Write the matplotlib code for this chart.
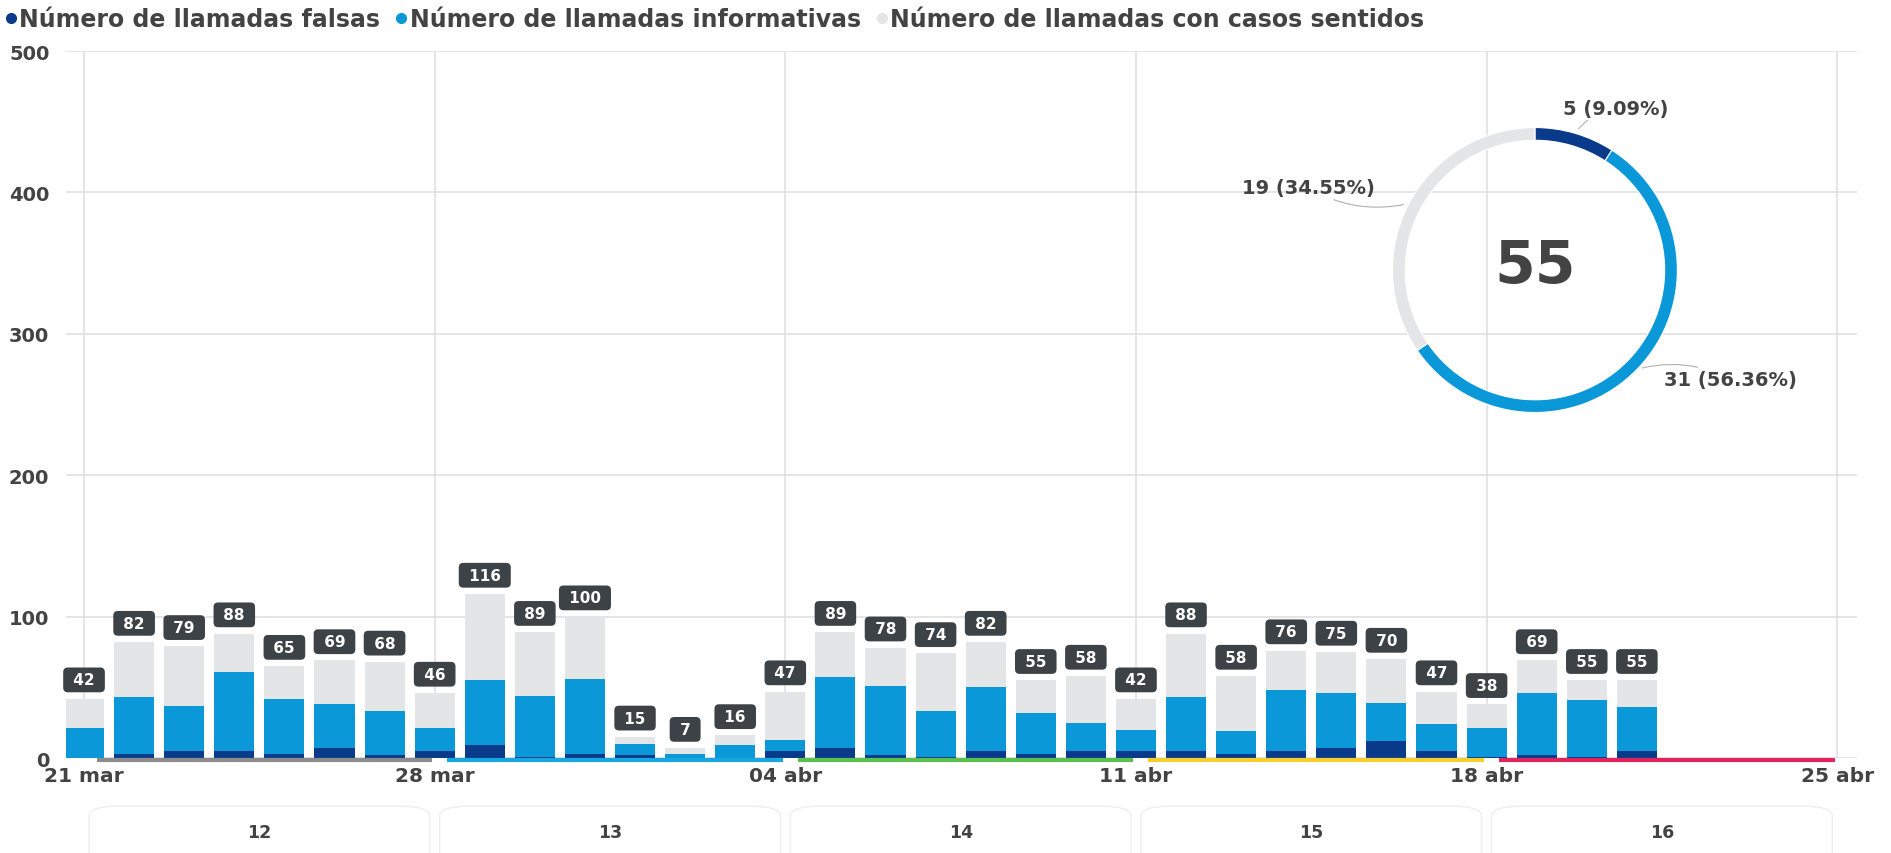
import numpy as np
import matplotlib.pyplot as plt
import matplotlib
from matplotlib.patches import FancyBboxPatch

matplotlib.rcParams.update({'font.family': ['DejaVu Sans'], 'font.weight': 'bold'})

# Data: one bar per day starting 21 mar
falsas = [0, 3, 5, 5, 3, 7, 2, 5, 9, 1, 3, 2, 0, 0, 5, 7, 2, 1, 5, 3, 5, 5,
          5, 3, 5, 7, 12, 5, 1, 2, 1, 5]
informativas = [21, 40, 32, 56, 39, 31, 31, 16, 46, 43, 53, 8, 3, 9, 8, 50, 49,
                32, 45, 29, 20, 15, 38, 16, 43, 39, 27, 19, 20, 44, 40, 31]
totales = [42, 82, 79, 88, 65, 69, 68, 46, 116, 89, 100, 15, 7, 16, 47, 89, 78,
           74, 82, 55, 58, 42, 88, 58, 76, 75, 70, 47, 38, 69, 55, 55]
sentidos = [t - f - i for t, f, i in zip(totales, falsas, informativas)]

tick_days = [0, 7, 14, 21, 28, 35]
tick_labels = ['21 mar', '28 mar', '04 abr', '11 abr', '18 abr', '25 abr']
semanas = ['12', '13', '14', '15', '16']
semana_colors = ['#8c8c8c', '#1aa7e0', '#5cc04f', '#f5cf2e', '#e0245e']

# donut: last day
donut_vals = [5, 31, 19]

c_falsas = '#0a3a8a'
c_info = '#0a98d8'
c_sent = '#e4e5e7'
c_text = '#434343'

fig = plt.figure(figsize=(18.91, 8.54), dpi=100)
ax = fig.add_axes([0.0349, 0.1112, 0.947, 0.8279])

days = np.arange(len(totales))
f = np.array(falsas)
i_ = np.array(informativas)
s = np.array(sentidos)
ax.bar(days, f, width=0.8, color=c_falsas, zorder=3)
ax.bar(days, i_, width=0.8, bottom=f, color=c_info, zorder=3)
ax.bar(days, s, width=0.8, bottom=f + i_, color=c_sent, zorder=3)

for d, t in zip(days, totales):
    ax.annotate(f' {t} ', (d, t), xytext=(0, 13.5), textcoords='offset points',
                ha='center', va='center', color='white', fontsize=11,
                fontweight='bold', zorder=5,
                bbox=dict(boxstyle='round,pad=0.32,rounding_size=0.3',
                          fc='#3d4246', ec='none'))

ax.set_xlim(-0.36, 35.39)
ax.set_ylim(0, 500)
ax.set_yticks([0, 100, 200, 300, 400, 500])
ax.set_xticks(tick_days)
ax.set_xticklabels(tick_labels)
ax.tick_params(length=0, labelsize=14, labelcolor=c_text)
ax.tick_params(axis='x', labelsize=14.5, pad=6)
ax.yaxis.set_tick_params(pad=12)
for lab in ax.get_xticklabels() + ax.get_yticklabels():
    lab.set_fontweight('bold')
ax.grid(True, color='#dedede', linewidth=1.1, zorder=0)
for sp in ax.spines.values():
    sp.set_visible(False)

# week segments along the axis and week bands below
for k, (w, col) in enumerate(zip(semanas, semana_colors)):
    x0 = tick_days[k]
    ax.plot([x0 + 0.25, x0 + 6.95], [-1.5, -1.5], color=col, lw=3,
            solid_capstyle='butt', clip_on=False, zorder=4)
    ax.add_patch(FancyBboxPatch((x0 + 0.1, -95), 6.8, 61,
                                boxstyle='round,pad=0,rounding_size=0.6',
                                mutation_aspect=12, fc='none', ec='#eeeeee',
                                lw=1, clip_on=False, transform=ax.transData))
    ax.text(x0 + 3.5, -52, w, ha='center', va='center', fontsize=12.5,
            color=c_text, fontweight='bold', clip_on=False)

# legend
handles = [plt.Line2D([], [], marker='o', ls='', color=c, markersize=7)
           for c in [c_falsas, c_info, c_sent]]
fig.legend(handles, ['Número de llamadas falsas', 'Número de llamadas informativas',
                     'Número de llamadas con casos sentidos'],
           loc='upper left', bbox_to_anchor=(-0.008, 1.015), ncol=3, frameon=False,
           handlelength=0.4, handletextpad=0.15, columnspacing=0.7,
           prop={'size': 17, 'weight': 'bold'}, labelcolor=c_text)

# donut for last day
dax = fig.add_axes([0.7324, 0.507, 0.1586, 0.3513])
dax.set_facecolor('none')
wedges, _ = dax.pie(donut_vals, colors=[c_falsas, c_info, c_sent], startangle=90,
                    counterclock=False, radius=0.95,
                    wedgeprops=dict(width=0.085, edgecolor='white', linewidth=0.8))
dax.set_xlim(-1, 1)
dax.set_ylim(-1, 1)
dax.set_aspect('auto')
dax.axis('off')
dax.text(0, 0.03, str(sum(donut_vals)), ha='center', va='center', fontsize=42,
         fontweight='bold', color=c_text)

total = sum(donut_vals)
label_pos = [(0.19, 1.08, 'left'), (0.86, -0.73, 'left'), (-1.07, 0.55, 'right')]
for w, v, (tx, ty, ha) in zip(wedges, donut_vals, label_pos):
    ang = np.deg2rad((w.theta1 + w.theta2) / 2)
    px, py = 0.95 * np.cos(ang), 0.95 * np.sin(ang)
    dax.annotate(f'{v} ({v / total * 100:.2f}%)', (px, py), xytext=(tx, ty),
                 ha=ha, va='center', fontsize=14, fontweight='bold', color=c_text,
                 annotation_clip=False,
                 arrowprops=dict(arrowstyle='-', color='#b0b0b0', lw=0.8,
                                 connectionstyle='arc3,rad=0.2',
                                 shrinkA=0, shrinkB=4))

fig.savefig('out.png', dpi=100)
